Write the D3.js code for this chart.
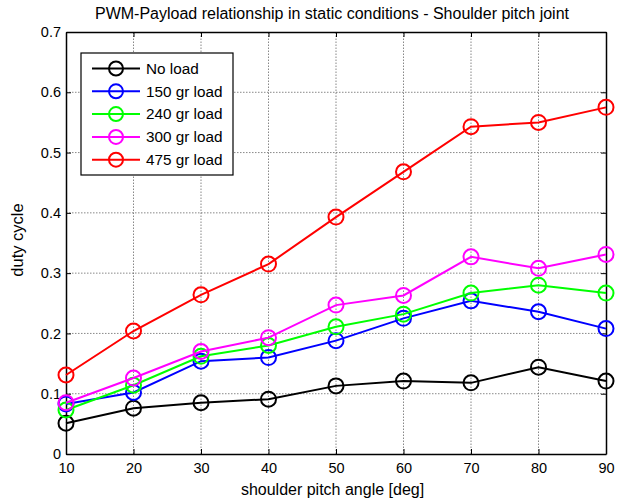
<!DOCTYPE html>
<html><head><meta charset="utf-8">
<script src="https://cdn.jsdelivr.net/npm/d3@7"></script>
<style>body{margin:0;background:#fff}svg{display:block}text{font-family:"Liberation Sans",Arial,sans-serif}</style>
</head><body><div id="chart"></div>
<script>
const angles = [10,20,30,40,50,60,70,80,90];
const noLoad   = [0.051,0.076,0.085,0.091,0.113,0.121,0.118,0.144,0.121];
const load150  = [0.083,0.102,0.154,0.160,0.188,0.225,0.254,0.236,0.208];
const load240  = [0.073,0.114,0.162,0.180,0.211,0.232,0.267,0.280,0.267];
const load300  = [0.085,0.126,0.170,0.193,0.247,0.263,0.327,0.308,0.331];
const load475  = [0.131,0.204,0.264,0.315,0.393,0.468,0.543,0.550,0.575];
const seriesNames = ["No load","150 gr load","240 gr load","300 gr load","475 gr load"];
const seriesColors = ["#000000","#0000ff","#00ff00","#ff00ff","#ff0000"];
const seriesValues = [noLoad,load150,load240,load300,load475];
const xTicks = [10,20,30,40,50,60,70,80,90];
const yTicks = [0,0.1,0.2,0.3,0.4,0.5,0.6,0.7];

const W=626,H=502;
const m={l:66,r:20,t:32,b:48};
const svg=d3.select("#chart").append("svg").attr("width",W).attr("height",H);
const x=d3.scaleLinear().domain([10,90]).range([m.l,W-m.r]);
const y=d3.scaleLinear().domain([0,0.7]).range([H-m.b,m.t]);
const x0=m.l,x1=W-m.r,y0=H-m.b,y1=m.t;

// grid
const g=svg.append("g");
g.selectAll(".gx").data(xTicks.slice(1,-1)).join("line")
 .attr("x1",d=>x(d)).attr("x2",d=>x(d)).attr("y1",y0).attr("y2",y1)
 .attr("stroke","#555").attr("stroke-width",0.7).attr("stroke-dasharray","1.5,1.5");
g.selectAll(".gy").data(yTicks.slice(1,-1)).join("line")
 .attr("y1",d=>y(d)).attr("y2",d=>y(d)).attr("x1",x0).attr("x2",x1)
 .attr("stroke","#555").attr("stroke-width",0.7).attr("stroke-dasharray","1.5,1.5");

// axes with inward ticks
const fs="14.5px";
const axB=svg.append("g").attr("transform",`translate(0,${y0})`)
 .call(d3.axisBottom(x).tickValues(xTicks).tickSizeInner(-5).tickSizeOuter(0).tickPadding(9));
const axT=svg.append("g").attr("transform",`translate(0,${y1})`)
 .call(d3.axisTop(x).tickValues(xTicks).tickSizeInner(-5).tickSizeOuter(0).tickFormat(""));
const axL=svg.append("g").attr("transform",`translate(${x0},0)`)
 .call(d3.axisLeft(y).tickValues(yTicks).tickSizeInner(-5).tickSizeOuter(0).tickPadding(5).tickFormat(d=>d===0?"0":d3.format(".1f")(d)));
const axR=svg.append("g").attr("transform",`translate(${x1},0)`)
 .call(d3.axisRight(y).tickValues(yTicks).tickSizeInner(-5).tickSizeOuter(0).tickFormat(""));
[axB,axT,axL,axR].forEach(a=>{a.selectAll("path").attr("stroke","#000").attr("stroke-width",1.5);
 a.selectAll("line").attr("stroke","#000");
 a.selectAll("text").attr("font-size",fs).attr("fill","#000").attr("font-family","Liberation Sans, Arial, sans-serif");});

// series
const line=d3.line().x((d,i)=>x(angles[i])).y(d=>y(d));
seriesValues.forEach((vals,k)=>{
 const sg=svg.append("g");
 sg.append("path").datum(vals).attr("d",line).attr("fill","none").attr("stroke",seriesColors[k]).attr("stroke-width",2);
 sg.selectAll("circle").data(vals).join("circle").attr("cx",(d,i)=>x(angles[i])).attr("cy",d=>y(d)).attr("r",7.5)
  .attr("fill","none").attr("stroke",seriesColors[k]).attr("stroke-width",2);
});

// legend
const lg=svg.append("g");
lg.append("rect").attr("x",81).attr("y",53).attr("width",152).attr("height",122).attr("fill","#fff").attr("stroke","#000").attr("stroke-width",1.2);
seriesNames.forEach((n,k)=>{
 const yy=68.5+k*22.8;
 lg.append("line").attr("x1",92).attr("x2",140).attr("y1",yy).attr("y2",yy).attr("stroke",seriesColors[k]).attr("stroke-width",2);
 lg.append("circle").attr("cx",116).attr("cy",yy).attr("r",7).attr("fill","none").attr("stroke",seriesColors[k]).attr("stroke-width",2);
 lg.append("text").attr("x",146).attr("y",yy+5.2).attr("font-size","15.3px").text(n);
});

// titles
svg.append("text").attr("x",332).attr("y",19).attr("text-anchor","middle").attr("font-size","16px").text("PWM-Payload relationship in static conditions - Shoulder pitch joint");
svg.append("text").attr("x",332.5).attr("y",495).attr("text-anchor","middle").attr("font-size","16px").text("shoulder pitch angle [deg]");
svg.append("text").attr("transform",`translate(23,240) rotate(-90)`).attr("text-anchor","middle").attr("font-size","16.5px").text("duty cycle");
</script></body></html>
